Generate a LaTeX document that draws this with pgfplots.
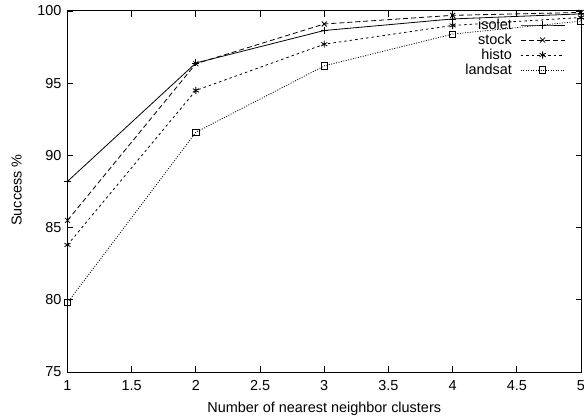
\documentclass[border=0pt]{standalone}
\usepackage{fontspec}
\setmainfont{Liberation Sans}
\usepackage{pgfplots}
\pgfplotsset{compat=1.18}
\begin{document}
\begin{tikzpicture}
\begin{axis}[
  name=ax,
  scale only axis,
  width=513.5bp, height=361bp,
  xmin=1, xmax=5, ymin=75, ymax=100,
  xtick={1,1.5,2,2.5,3,3.5,4,4.5,5},
  ytick={75,80,85,90,95,100},
  /pgf/number format/assume math mode=true,
  tick align=inside,
  major tick length=5.5bp,
  axis line style={line width=1bp},
  every tick/.style={line width=0.8bp, black},
  tick label style={font=\fontsize{14.5}{17}\selectfont},
  xticklabel style={yshift=-5bp},
  yticklabel style={xshift=-2.5bp},
  clip=false,
  every axis x label/.style={at={(axis description cs:0.5,-0.1127)}, anchor=base, font=\fontsize{14.5}{17}\selectfont},
  every axis y label/.style={at={(axis description cs:-0.0892,0.504)}, rotate=90, anchor=base, font=\fontsize{14.5}{17}\selectfont},
  xlabel={Number of nearest neighbor clusters},
  ylabel={Success \%},
  legend plot pos=right,
  legend cell align=right,
  legend style={draw=none, fill=none, inner sep=0pt, outer sep=0pt,
    at={(axis description cs:1,1)}, anchor=north east, xshift=-16bp, yshift=-6.5bp,
    font=\fontsize{14.5}{17}\selectfont, row sep=0pt, column sep=7.3bp,
    nodes={text height=10.5bp, text depth=2.5bp, inner sep=1bp}},
  legend image code/.code={\draw[mark repeat=2,mark phase=2,#1] plot coordinates {(0bp,0bp) (22bp,0bp) (44bp,0bp)};},
  every axis plot/.append style={line width=0.8bp, black, mark size=3.5bp, mark options={solid, line width=0.8bp}},
]
\addplot[mark=+] coordinates {(1,88.2) (2,96.4) (3,98.65) (4,99.45) (5,99.8)};
\addlegendentry{isolet}
\addplot[mark=x, dash pattern=on 5bp off 3bp] coordinates {(1,85.5) (2,96.35) (3,99.1) (4,99.7) (5,99.9)};
\addlegendentry{stock}
\addplot[mark=asterisk, dash pattern=on 2.5bp off 3bp] coordinates {(1,83.8) (2,94.5) (3,97.7) (4,99.0) (5,99.55)};
\addlegendentry{histo}
\addplot[mark=square, mark size=3.2bp, dash pattern=on 1bp off 1.5bp] coordinates {(1,79.8) (2,91.6) (3,96.2) (4,98.4) (5,99.3)};
\addlegendentry{landsat}
\end{axis}
\pgfresetboundingbox
\path ([xshift=-67.5bp,yshift=-47bp]ax.south west) rectangle ([xshift=3bp,yshift=11bp]ax.north east);
\end{tikzpicture}
\end{document}
